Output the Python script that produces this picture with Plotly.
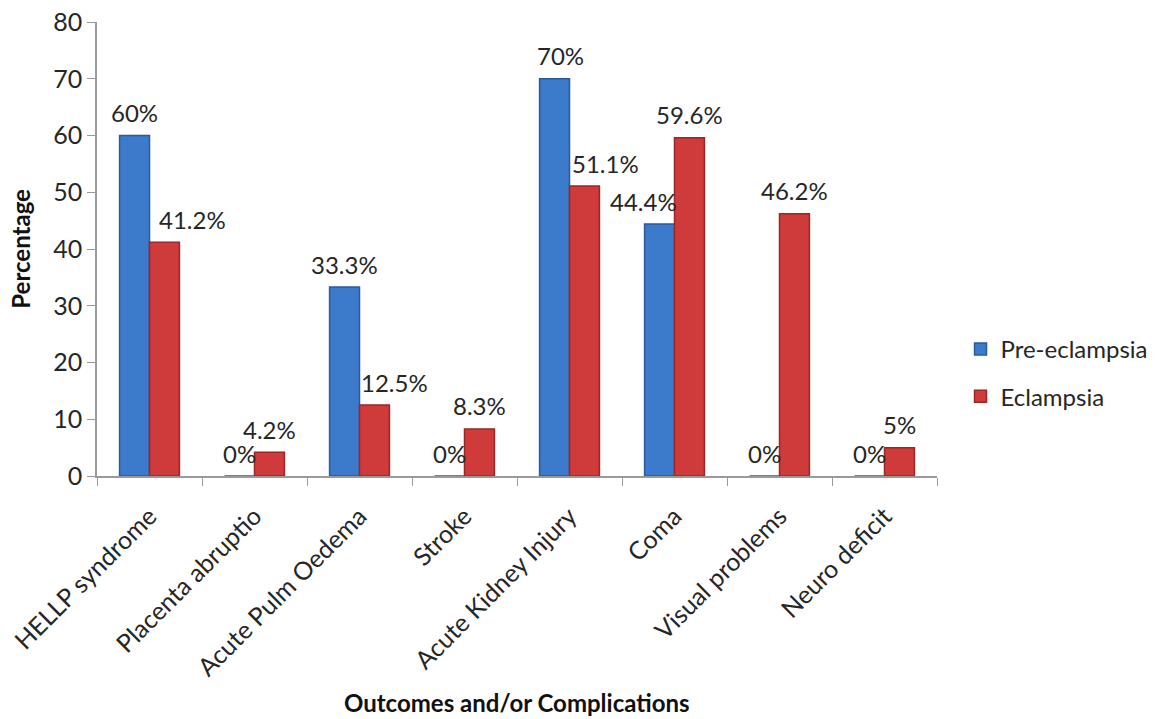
import plotly.graph_objects as go

categories = ["HELLP syndrome", "Placenta abruptio", "Acute Pulm Oedema", "Stroke",
              "Acute Kidney Injury", "Coma", "Visual problems", "Neuro deficit"]
pre_eclampsia = [60, 0, 33.3, 0, 70, 44.4, 0, 0]
eclampsia = [41.2, 4.2, 12.5, 8.3, 51.1, 59.6, 46.2, 5]
pre_labels = ["60%", "0%", "33.3%", "0%", "70%", "44.4%", "0%", "0%"]
ecl_labels = ["41.2%", "4.2%", "12.5%", "8.3%", "51.1%", "59.6%", "46.2%", "5%"]
y_ticks = [0, 10, 20, 30, 40, 50, 60, 70, 80]

FONT = "Lato"
TXT = "#262626"
BLUE = "#3c7bcb"
BLUE_EDGE = "#2a5a9c"
RED = "#cf3a3a"
RED_EDGE = "#9e2525"

fig = go.Figure()
fig.add_trace(go.Bar(name="Pre-eclampsia", x=categories, y=pre_eclampsia,
                     marker=dict(color=BLUE, line=dict(color=BLUE_EDGE, width=1.5)),
                     legendgroup="a"))
fig.add_trace(go.Bar(name="Eclampsia", x=categories, y=eclampsia,
                     marker=dict(color=RED, line=dict(color=RED_EDGE, width=1.5)),
                     legendgroup="b"))

# label offsets (style only): extra horizontal shift in px for crowded labels
extra_pre = {5: -16, 4: 6}
extra_ecl = {0: 28, 2: 20, 4: 21}

annotations = []
for i, c in enumerate(categories):
    annotations.append(dict(x=c, y=pre_eclampsia[i], xref="x", yref="y", text=pre_labels[i],
                            showarrow=False, xanchor="center", yanchor="middle",
                            xshift=-15 + extra_pre.get(i, 0), yshift=23,
                            font=dict(family=FONT, size=24, color=TXT)))
    annotations.append(dict(x=c, y=eclampsia[i], xref="x", yref="y", text=ecl_labels[i],
                            showarrow=False, xanchor="center", yanchor="middle",
                            xshift=15 + extra_ecl.get(i, 0), yshift=23,
                            font=dict(family=FONT, size=24, color=TXT)))

annotations.append(dict(x=0.5, y=-0.498, xref="paper", yref="paper",
                        text="<b>Outcomes and/or Complications</b>", showarrow=False,
                        xanchor="center", yanchor="middle",
                        font=dict(family=FONT, size=24, color="#111111")))
annotations.append(dict(x=-0.092, y=0.5, xref="paper", yref="paper",
                        text="<b>Percentage</b>", showarrow=False, textangle=-90,
                        xanchor="center", yanchor="middle",
                        font=dict(family=FONT, size=24, color="#111111")))

fig.update_layout(
    width=1160, height=719,
    margin=dict(l=97, r=223, t=22, b=243, autoexpand=False),
    paper_bgcolor="white", plot_bgcolor="white",
    barmode="group", bargap=0.43, bargroupgap=0,
    showlegend=True,
    legend=dict(x=1.028, y=0.227, xanchor="left", yanchor="middle",
                font=dict(family=FONT, size=24, color=TXT),
                tracegroupgap=13, traceorder="grouped"),
    annotations=annotations,
    xaxis=dict(type="category", showgrid=False, showline=True, linecolor="#9a9a9a", linewidth=1.5,
               ticks="outside", tickson="boundaries", ticklen=8, tickcolor="#9a9a9a",
               tickangle=-45, ticklabelstandoff=14, automargin=False,
               tickfont=dict(family=FONT, size=25, color=TXT)),
    yaxis=dict(range=[0, 80], tickvals=y_ticks, showgrid=False, showline=True, linecolor="#9a9a9a",
               linewidth=1.5, ticks="outside", ticklen=8, tickcolor="#9a9a9a", zeroline=False,
               automargin=False, tickfont=dict(family=FONT, size=25, color=TXT)),
    font=dict(family=FONT, color=TXT),
)

fig.write_html("out.html")
